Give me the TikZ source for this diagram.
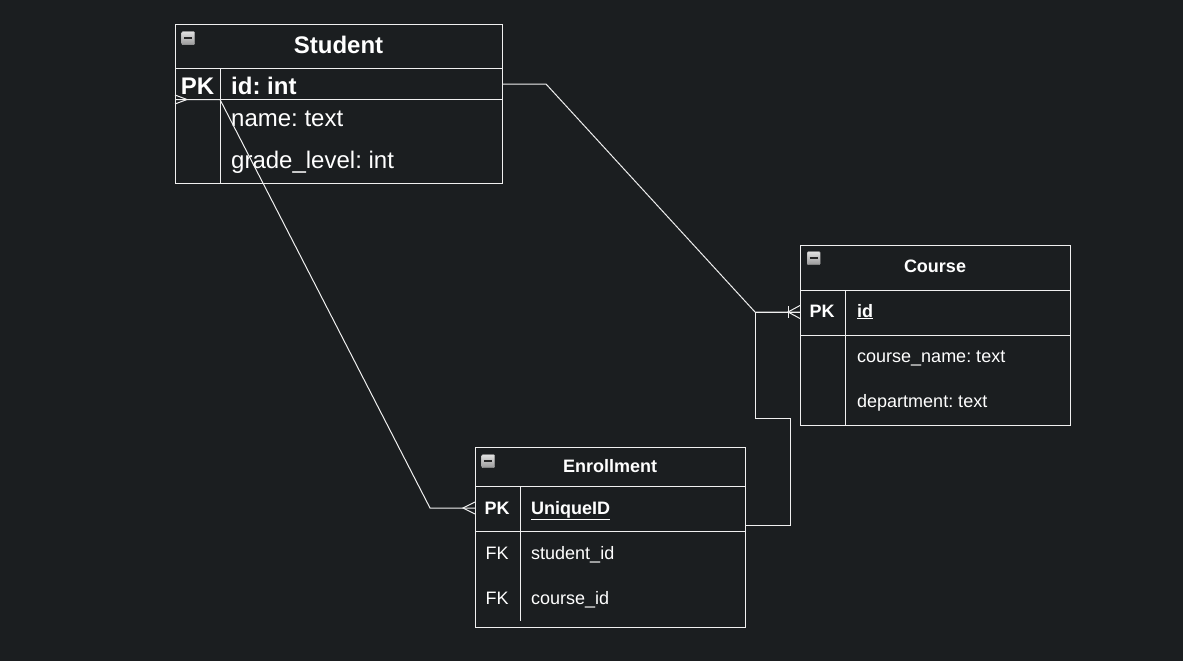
\documentclass[tikz,border=0pt]{standalone}
\usepackage{fontspec}
\setmainfont{Liberation Sans}
\frenchspacing
\definecolor{bg}{HTML}{1B1E20}
\definecolor{ln}{HTML}{F0F0F0}
\tikzset{
  tbl/.style={draw=ln, line width=1pt, anchor=north west, inner sep=0pt},
  sep/.style={draw=ln, line width=1pt},
  conn/.style={draw=ln, line width=1pt, line join=miter},
  bigb/.style={font=\fontsize{24}{28}\selectfont\bfseries, text=white, inner sep=0pt},
  bigr/.style={font=\fontsize{24}{28}\selectfont, text=white, inner sep=0pt},
  smb/.style={font=\fontsize{18}{21}\selectfont\bfseries, text=white, inner sep=0pt},
  smr/.style={font=\fontsize{18}{21}\selectfont, text=white, inner sep=0pt},
  iconbox/.style={draw=black!35, top color=black!12, bottom color=black!40, minimum width=13pt, minimum height=13pt, inner sep=0pt, anchor=north west, rounded corners=1pt}
}
\newcommand{\minusicon}[2]{%
  \node[iconbox] (#1) at #2 {};
  \draw[line width=1.8pt, black!85] ([xshift=2.5pt]#1.west) -- ([xshift=-2.5pt]#1.east);
}
\begin{document}
\begin{tikzpicture}[x=1pt,y=-1pt]
\fill[bg] (0,0) rectangle (1183,661);
\useasboundingbox (0,0) rectangle (1183,661);

% ---------- Student ----------
\node[tbl, minimum width=327, minimum height=159] (student) at (175,24) {};
\draw[sep] (175,69) -- (502,69);
\draw[sep] (175,99) -- (502,99);
\draw[sep] (220,69) -- (220,183);
\minusicon{sicon}{(181.5,31.5)}
\node[bigb, anchor=base] (stitle) at (338.5,54) {Student};
\node[bigb, anchor=base] (spk) at (197.5,94) {PK};
\node[bigb, anchor=base west] (sid) at (231,94) {id: int};
\node[bigr, anchor=base west] (sname) at (231,126) {name: text};
\node[bigr, anchor=base west] (sgrade) at (231,168) {grade\_level: int};

% ---------- Course ----------
\node[tbl, minimum width=270, minimum height=180] (course) at (800,245) {};
\draw[sep] (800,290) -- (1070,290);
\draw[sep] (800,335) -- (1070,335);
\draw[sep] (845,290) -- (845,425);
\minusicon{cicon}{(807,251.5)}
\node[smb, anchor=base] (ctitle) at (935,272) {Course};
\node[smb, anchor=base] (cpk) at (822,317) {PK};
\node[smb, anchor=base west] (cid) at (857,317) {\underline{id}};
\node[smr, anchor=base west] (cname) at (857,362) {course\_name: text};
\node[smr, anchor=base west] (cdept) at (857,407) {department: text};

% ---------- Enrollment ----------
\node[tbl, minimum width=270, minimum height=180] (enroll) at (475,447) {};
\draw[sep] (475,486) -- (745,486);
\draw[sep] (475,531) -- (745,531);
\draw[sep] (520,486) -- (520,621);
\minusicon{eicon}{(481.5,454.5)}
\node[smb, anchor=base] (etitle) at (610,472.5) {Enrollment};
\node[smb, anchor=base] (epk) at (497,514) {PK};
\node[smb, anchor=base west] (eid) at (531,514) {\underline{UniqueID}};
\node[smr, anchor=base] (efk1) at (497,559) {FK};
\node[smr, anchor=base west] (esid) at (531,559) {student\_id};
\node[smr, anchor=base] (efk2) at (497,604) {FK};
\node[smr, anchor=base west] (ecid) at (531,604) {course\_id};

% ---------- connector end points ----------
\coordinate (sidR) at (502,84);
\coordinate (spkL) at (175,99.5);
\coordinate (cidL) at (800,312);
\coordinate (eidR) at (745,525);
\coordinate (eidL) at (475,508);

% Student.id -> Course.id
\draw[conn] (sidR) -- (546,84) -- (755,312) -- (cidL);
% Enrollment -> Course.id
\draw[conn] (eidR) -- (790,525) -- (790,418) -- (755,418) -- (755,312) -- (cidL);
% one-or-many foot at Course
\draw[conn] (788,306) -- (788,318);
\draw[conn] (800,305.5) -- (788,312) -- (800,318.5);

% Student -> Enrollment
\draw[conn] (spkL) -- (220,99.5) -- (430,508) -- (eidL);
% many foot at Enrollment
\draw[conn] (475,502) -- (463,508) -- (475,514);
% many foot at Student
\draw[conn] (175,95) -- (187,99.5) -- (175,104);
\end{tikzpicture}
\end{document}
